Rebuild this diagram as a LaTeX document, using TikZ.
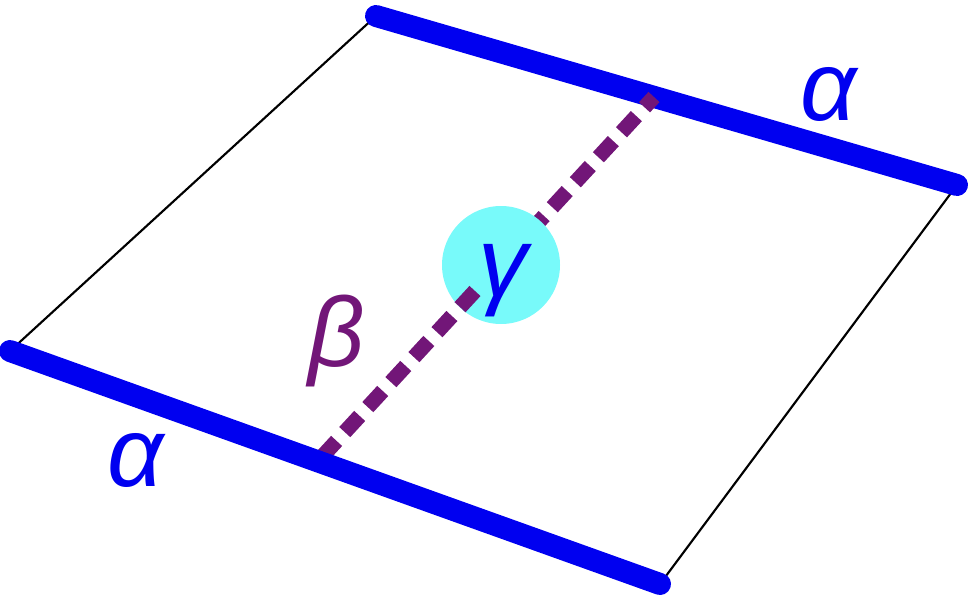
\documentclass[tikz,border=0pt]{standalone}
\usepackage{fontspec}
\setmainfont{Liberation Sans}
\usetikzlibrary{calc}
\definecolor{edgeblue}{RGB}{0,0,240}
\definecolor{dashpurple}{RGB}{114,22,120}
\definecolor{disccyan}{RGB}{120,250,250}
\begin{document}
\begin{tikzpicture}[x=0.75pt,y=-0.75pt,
  thinedge/.style={line width=1.6pt, black},
  thickedge/.style={line width=16.5pt, edgeblue, line cap=round},
  dashlink/.style={line width=11.25pt, dashpurple, dash pattern=on 16.5pt off 9pt, dash phase=6pt},
  disc/.style={circle, fill=disccyan, minimum size=88.5pt, inner sep=0pt},
  lab/.style={anchor=base, font=\fontsize{74}{80}\selectfont\itshape, inner sep=0pt}]
\useasboundingbox (0,0) rectangle (970,599);
\coordinate (A) at (10,351);
\coordinate (B) at (376,16);
\coordinate (C) at (957,185);
\coordinate (D) at (660,584);
\coordinate (P) at (654,97);
\coordinate (Q) at (319,460);
\draw[thinedge] (A) -- (B);
\draw[thinedge] (C) -- (D);
\draw[thickedge] (B) -- (C);
\draw[dashlink] (P) -- (Q);
\draw[thickedge] (A) -- (D);
\node[disc] (g) at (501,265) {};
\draw[dashlink, solid] ($(P)!0.5344!(Q)$) -- ($(P)!0.5789!(Q)$);
\node[lab, text=edgeblue] (a1) at (829,120.5) {α};
\node[lab, text=edgeblue] (a2) at (136,486) {α};
\node[lab, text=dashpurple] (b) at (337,366) {β};
\node[lab, text=edgeblue] (c) at (503,296) {γ};
\end{tikzpicture}
\end{document}
